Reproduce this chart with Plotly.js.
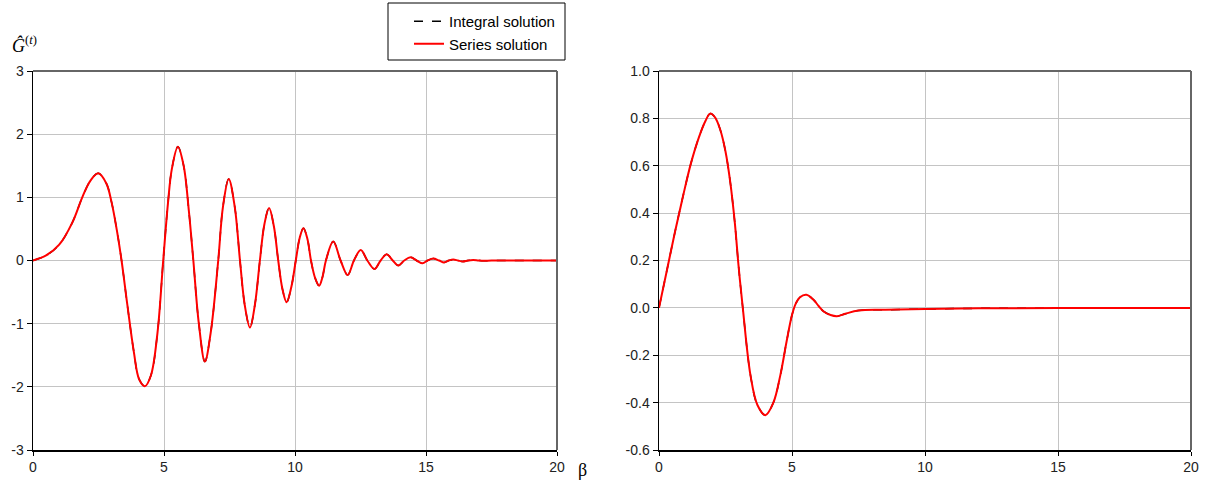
<!DOCTYPE html>
<html>
<head>
<meta charset="utf-8">
<script src="https://cdn.plot.ly/plotly-3.0.1.min.js"></script>
<style>html,body{margin:0;padding:0;background:#fff;}#chart{width:1207px;height:484px;}</style>
</head>
<body>
<div id="chart"></div>
<script>
// Left panel: G^(t) vs beta
const betaLeft = [0, 0.5, 1.0, 1.5, 1.9, 2.2, 2.49, 2.8, 3.0, 3.2, 3.38, 3.6, 3.85, 4.05, 4.27, 4.5, 4.75, 4.97, 5.15, 5.3, 5.53, 5.75, 5.95, 6.12, 6.33, 6.56, 6.78, 7.07, 7.25, 7.47, 7.7, 7.9, 8.08, 8.28, 8.47, 8.66, 8.83, 9.01, 9.19, 9.36, 9.52, 9.68, 9.86, 10.03, 10.18, 10.32, 10.47, 10.61, 10.77, 10.92, 11.05, 11.18, 11.46, 11.74, 12.01, 12.25, 12.51, 12.76, 13.03, 13.27, 13.5, 13.73, 13.94, 14.17, 14.41, 14.64, 14.87, 15.06, 15.28, 15.5, 15.69, 15.87, 16.04, 16.22, 16.4, 16.6, 16.8, 17.0, 17.2, 17.5, 18, 19, 20];
const gLeft = [0, 0.08, 0.25, 0.6, 1.02, 1.27, 1.38, 1.22, 0.92, 0.48, 0, -0.7, -1.45, -1.88, -1.99, -1.82, -1.15, 0, 0.9, 1.45, 1.80, 1.5, 0.78, 0, -1.0, -1.60, -1.15, 0, 0.85, 1.29, 0.85, 0, -0.7, -1.06, -0.7, 0, 0.57, 0.83, 0.55, 0, -0.45, -0.66, -0.42, 0, 0.36, 0.51, 0.35, 0, -0.28, -0.40, -0.26, 0, 0.30, 0, -0.23, 0, 0.166, 0, -0.135, 0, 0.10, 0, -0.08, 0, 0.05, 0, -0.045, 0, 0.03, 0, -0.03, 0, 0.015, 0, -0.015, 0, 0.008, 0, -0.005, 0, 0, 0, 0];

// Right panel
const betaRight = [0, 0.3, 0.6, 0.9, 1.2, 1.5, 1.75, 1.92, 2.1, 2.3, 2.5, 2.68, 2.85, 2.99, 3.15, 3.44, 3.7, 4.0, 4.3, 4.56, 4.8, 5.0, 5.15, 5.3, 5.54, 5.8, 6.0, 6.19, 6.45, 6.69, 7.0, 7.5, 8.5, 10, 12, 15, 20];
const gRight = [0, 0.16, 0.32, 0.47, 0.61, 0.72, 0.79, 0.82, 0.805, 0.753, 0.66, 0.53, 0.36, 0.178, 0, -0.285, -0.41, -0.453, -0.40, -0.285, -0.14, -0.03, 0.02, 0.045, 0.055, 0.035, 0.008, -0.015, -0.03, -0.035, -0.025, -0.011, -0.008, -0.005, -0.002, -0.001, 0];

const seriesNames = ["Integral solution", "Series solution"];
const xTicks = [0, 5, 10, 15, 20];
const yTicksLeft = [-3, -2, -1, 0, 1, 2, 3];
const yTickTextLeft = ["-3", "-2", "-1", "0", "1", "2", "3"];
const yTicksRight = [-0.6, -0.4, -0.2, 0, 0.2, 0.4, 0.6, 0.8, 1.0];
const yTickTextRight = ["-0.6", "-0.4", "-0.2", "0.0", "0.2", "0.4", "0.6", "0.8", "1.0"];

const W = 1207, H = 484;
const tickFont = {family: "Liberation Sans, Arial, sans-serif", size: 14, color: "#222"};

const traces = [
  {x: betaLeft, y: gLeft, xaxis: "x", yaxis: "y", mode: "lines", name: seriesNames[0],
   line: {color: "#000", width: 1.5, dash: "dash", shape: "spline", smoothing: 1}},
  {x: betaLeft, y: gLeft, xaxis: "x", yaxis: "y", mode: "lines", name: seriesNames[1],
   line: {color: "#ff0000", width: 2, shape: "spline", smoothing: 1}},
  {x: betaRight, y: gRight, xaxis: "x2", yaxis: "y2", mode: "lines", name: seriesNames[0], showlegend: false,
   line: {color: "#000", width: 1.5, dash: "dash", shape: "spline", smoothing: 1}},
  {x: betaRight, y: gRight, xaxis: "x2", yaxis: "y2", mode: "lines", name: seriesNames[1], showlegend: false,
   line: {color: "#ff0000", width: 2, shape: "spline", smoothing: 1}}
];

function xax(domain, anchor) {
  return {domain: domain, anchor: anchor, range: [0, 20], tickvals: xTicks, ticktext: xTicks.map(String),
    showgrid: true, gridcolor: "#c4c4c4", gridwidth: 1, zeroline: false,
    showline: true, linecolor: "#000", linewidth: 1.5, ticks: "outside", ticklen: 4, tickcolor: "#000",
    tickfont: tickFont, fixedrange: true};
}
function yax(range, vals, text, anchor) {
  return {domain: [34 / H, 413 / H], anchor: anchor, range: range, tickvals: vals, ticktext: text,
    showgrid: true, gridcolor: "#c4c4c4", gridwidth: 1, zeroline: false,
    showline: true, linecolor: "#000", linewidth: 1.5, ticks: "outside", ticklen: 5, tickcolor: "#000",
    tickfont: tickFont, fixedrange: true};
}

const frame = (xr, yr) => [
  {type: "line", xref: xr + " domain", yref: yr + " domain", x0: 0, x1: 1, y0: 1, y1: 1, line: {color: "#666", width: 2}},
  {type: "line", xref: xr + " domain", yref: yr + " domain", x0: 1, x1: 1, y0: 0, y1: 1, line: {color: "#666", width: 2}}
];

const legendBox = {type: "rect", xref: "paper", yref: "paper",
  x0: 388 / W, x1: 565 / W, y0: 1 - 60 / H, y1: 1 - 3 / H,
  line: {color: "#000", width: 1}, fillcolor: "rgba(0,0,0,0)"};

const layout = {
  width: W, height: H,
  margin: {l: 0, r: 0, t: 0, b: 0},
  paper_bgcolor: "#fff", plot_bgcolor: "#fff",
  showlegend: true,
  legend: {x: 409 / W, y: 1 - 5 / H, xanchor: "left", yanchor: "top",
    bgcolor: "rgba(0,0,0,0)", borderwidth: 0,
    font: {family: "Liberation Sans, Arial, sans-serif", size: 15, color: "#000"},
    tracegroupgap: 0, itemwidth: 30},
  xaxis: xax([33 / W, 557 / W], "y"),
  yaxis: yax([-3, 3], yTicksLeft, yTickTextLeft, "x"),
  xaxis2: xax([659 / W, 1191 / W], "y2"),
  yaxis2: yax([-0.6, 1.0], yTicksRight, yTickTextRight, "x2"),
  shapes: frame("x", "y").concat(frame("x2", "y2")).concat([legendBox]),
  annotations: [
    {xref: "paper", yref: "paper", x: 10 / W, y: 1 - 44 / H, xanchor: "left", yanchor: "middle", showarrow: false,
     text: "<i>Ĝ</i><sup>(<i>t</i>)</sup>", font: {family: "Liberation Serif, Times New Roman, serif", size: 18, color: "#000"}},
    {xref: "paper", yref: "paper", x: 576 / W, y: 1 - 470 / H, xanchor: "left", yanchor: "middle", showarrow: false,
     text: "β", font: {family: "Liberation Serif, Times New Roman, serif", size: 18, color: "#000"}}
  ]
};

Plotly.newPlot("chart", traces, layout, {displayModeBar: false, staticPlot: true});
</script>
</body>
</html>
